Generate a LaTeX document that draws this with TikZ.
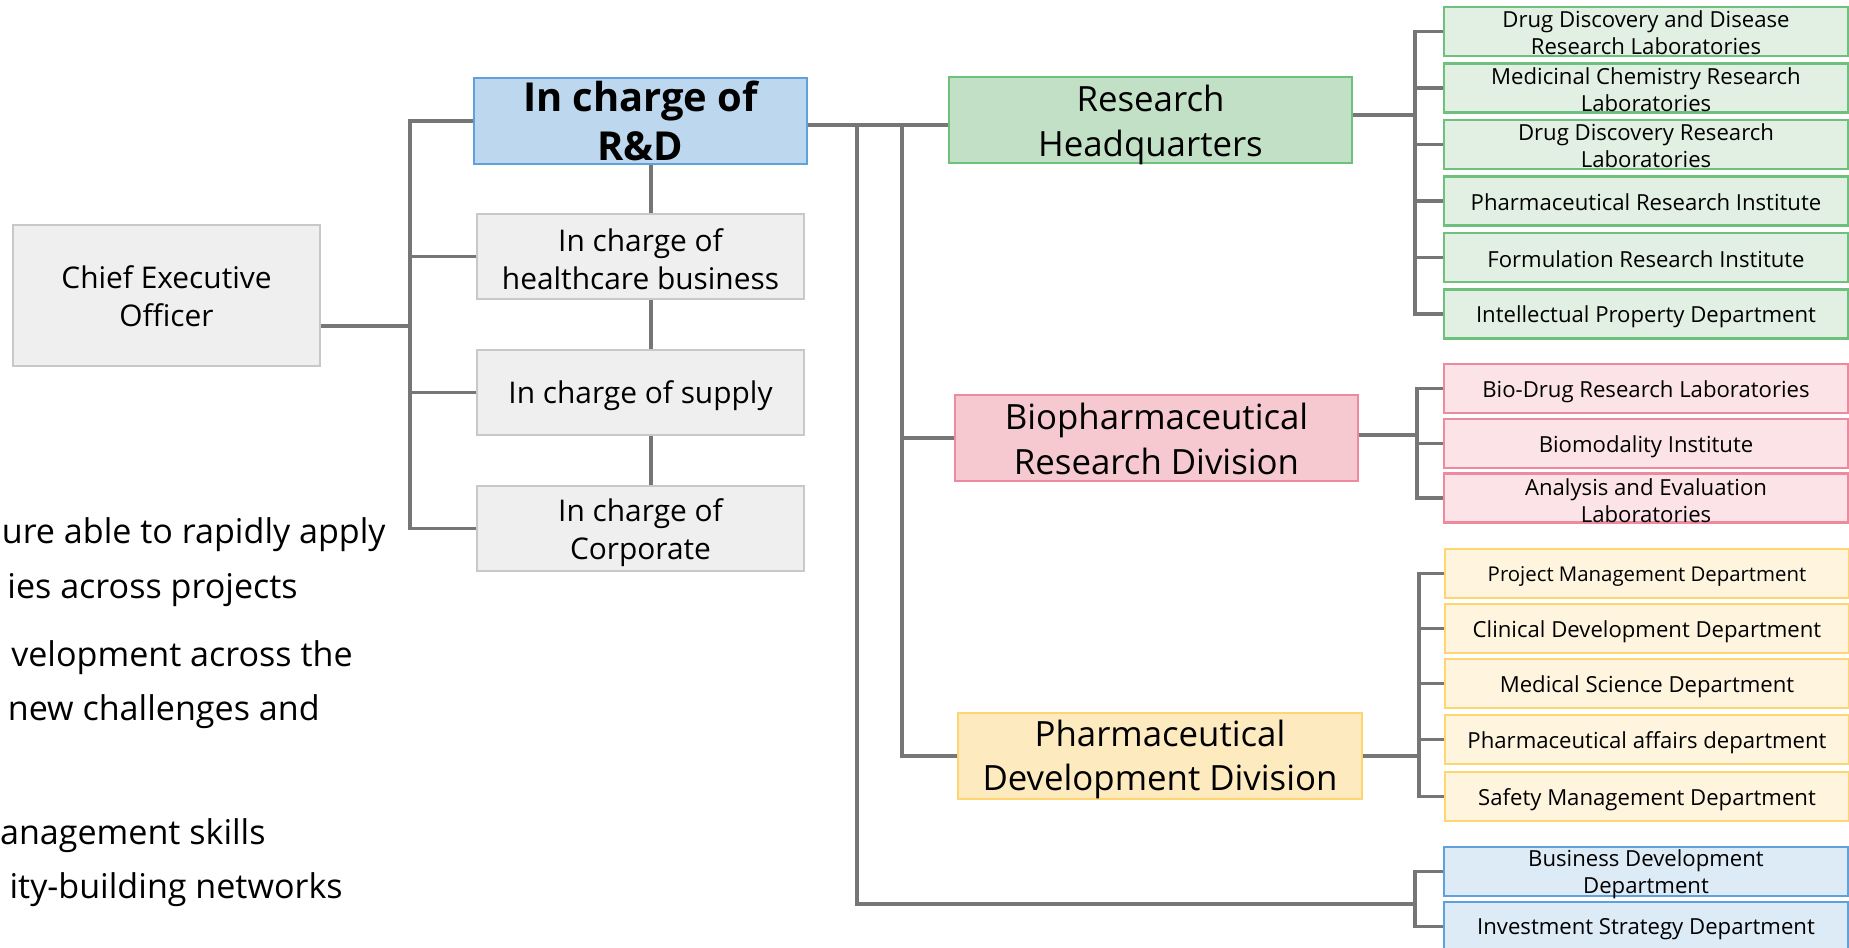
\documentclass[tikz,border=0pt]{standalone}
\usepackage{fontspec}
\setmainfont{Open Sans}
\definecolor{lc}{HTML}{767676}
\definecolor{grayf}{HTML}{EFEFEF}
\definecolor{grayb}{HTML}{C8C8C8}
\definecolor{rdf}{HTML}{BDD7EE}
\definecolor{blueb}{HTML}{5FA2DB}
\definecolor{bluel}{HTML}{DDEBF7}
\definecolor{hqf}{HTML}{C1E0C5}
\definecolor{greenb}{HTML}{6EC17D}
\definecolor{greenl}{HTML}{E2F0E4}
\definecolor{biof}{HTML}{F6C8D0}
\definecolor{pinkb}{HTML}{EE8A9D}
\definecolor{pinkl}{HTML}{FBE3E7}
\definecolor{devf}{HTML}{FEEABF}
\definecolor{yelb}{HTML}{FED56E}
\definecolor{yell}{HTML}{FFF4DE}
\begin{document}
\begin{tikzpicture}[x=0.02cm,y=-0.02cm,
  conn/.style={draw=lc,line width=1.9pt,line join=miter},
  bx/.style n args={4}{draw=#3,fill=#4,line width=1.4pt,minimum width=#1*0.02cm,minimum height=#2*0.02cm,inner sep=0pt},
  tmid/.style={align=center,inner sep=0pt,yshift=-0.06cm,font=\fontsize{17}{21.5}\selectfont},
  tbig/.style={align=center,inner sep=0pt,font=\fontsize{22.7}{28.3}\selectfont\bfseries},
  tdiv/.style={align=center,inner sep=0pt,font=\fontsize{19.8}{25.5}\selectfont},
  tsm/.style={align=center,inner sep=0pt,yshift=-0.06cm,font=\fontsize{12.6}{15.3}\selectfont},
  tsx/.style={align=center,inner sep=0pt,yshift=-0.06cm,font=\fontsize{11.6}{15.3}\selectfont},
  tleft/.style={anchor=east,inner sep=0pt,font=\fontsize{19.4}{24}\selectfont},
]
\fill[white] (0,0) rectangle (1849,947);
\useasboundingbox (0,0) rectangle (1849,947);

% left-hand side
\node[bx={307}{141}{grayb}{grayf},label={[tmid,yshift=0.045cm]center:{Chief Executive\\Officer}}] (ceo) at (166.5,295.5) {};
\node[bx={333}{86}{blueb}{rdf},label={[tbig]center:{In charge of\\R\&D}}] (rd) at (640.5,121) {};
\node[bx={327}{85}{grayb}{grayf},label={[tmid,yshift=0.01cm]center:{In charge of\\healthcare business}}] (hc) at (640.5,256.5) {};
\node[bx={327}{85}{grayb}{grayf},label={[tmid]center:{In charge of supply}}] (sup) at (640.5,392.5) {};
\node[bx={327}{85}{grayb}{grayf},label={[tmid,yshift=-0.02cm]center:{In charge of\\Corporate}}] (corp) at (640.5,528.5) {};

% divisions
\node[bx={403}{86}{greenb}{hqf},label={[tdiv,yshift=-0.095cm]center:{Research\\Headquarters}}] (hq) at (1150.5,120) {};
\node[bx={403}{86}{pinkb}{biof},label={[tdiv,yshift=-0.02cm]center:{Biopharmaceutical\\Research Division}}] (bio) at (1156.5,438) {};
\node[bx={404}{86}{yelb}{devf},label={[tdiv,yshift=-0.07cm]center:{Pharmaceutical\\Development Division}}] (dev) at (1160,756) {};

% research HQ units
\node[bx={404}{49}{greenb}{greenl},label={[tsm,yshift=0.03cm]center:{Drug Discovery and Disease\\Research Laboratories}}] (g1) at (1646,31.5) {};
\node[bx={404}{49}{greenb}{greenl},label={[tsm,yshift=0.03cm]center:{Medicinal Chemistry Research\\Laboratories}}] (g2) at (1646,88) {};
\node[bx={404}{49}{greenb}{greenl},label={[tsm,yshift=0.03cm]center:{Drug Discovery Research\\Laboratories}}] (g3) at (1646,144.5) {};
\node[bx={404}{49}{greenb}{greenl},label={[tsm,yshift=0.03cm]center:{Pharmaceutical Research Institute}}] (g4) at (1646,201) {};
\node[bx={404}{49}{greenb}{greenl},label={[tsm,yshift=0.03cm]center:{Formulation Research Institute}}] (g5) at (1646,257.5) {};
\node[bx={404}{49}{greenb}{greenl},label={[tsm]center:{Intellectual Property Department}}] (g6) at (1646,314) {};

% biopharma units
\node[bx={404}{49}{pinkb}{pinkl},label={[tsm]center:{Bio-Drug Research Laboratories}}] (p1) at (1646,388.5) {};
\node[bx={404}{49}{pinkb}{pinkl},label={[tsm]center:{Biomodality Institute}}] (p2) at (1646,443.5) {};
\node[bx={404}{49}{pinkb}{pinkl},label={[tsm]center:{Analysis and Evaluation\\Laboratories}}] (p3) at (1646,498) {};

% development units
\node[bx={404}{49}{yelb}{yell},label={[tsx]center:{Project Management Department}}] (d1) at (1647,573.5) {};
\node[bx={404}{49}{yelb}{yell},label={[tsm]center:{Clinical Development Department}}] (d2) at (1647,628.5) {};
\node[bx={404}{49}{yelb}{yell},label={[tsm]center:{Medical Science Department}}] (d3) at (1647,683.5) {};
\node[bx={404}{49}{yelb}{yell},label={[tsm]center:{Pharmaceutical affairs department}}] (d4) at (1647,739.5) {};
\node[bx={404}{49}{yelb}{yell},label={[tsm]center:{Safety Management Department}}] (d5) at (1647,796.5) {};

% business units
\node[bx={404}{49}{blueb}{bluel},label={[tsm]center:{Business Development\\Department}}] (b1) at (1646,871.5) {};
\node[bx={404}{49}{blueb}{bluel},label={[tsm]center:{Investment Strategy Department}}] (b2) at (1646,926.5) {};

% text running in from the left edge
\node[tleft] (l1) at (386,535) {ure able to rapidly apply};
\node[tleft] (l2) at (298,590) {ies across projects};
\node[tleft] (l3) at (353,658) {velopment across the};
\node[tleft] (l4) at (320,712) {new challenges and};
\node[tleft] (l5) at (266,836) {anagement skills};
\node[tleft] (l6) at (343,890) {ity-building networks};

% connector coordinates
\coordinate (lbx) at (410,0);
\coordinate (cj) at (410,326);
\coordinate (vx) at (651,0);
\coordinate (ry) at (0,125);
\coordinate (v1x) at (857,0);
\coordinate (v2x) at (902,0);
\coordinate (bb) at (1415,904);
\coordinate (hqb) at (1415,115);
\coordinate (bib) at (1417,435);
\coordinate (dvb) at (1419,0);

% left tree
\draw[conn] (rd.west) -- (rd.west -| lbx) -- (corp.west -| lbx) -- (corp.west);
\draw[conn] (hc.west) -- (hc.west -| lbx);
\draw[conn] (sup.west) -- (sup.west -| lbx);
\draw[conn] (ceo.east |- cj) -- (cj);
\draw[conn] (rd.south -| vx) -- (hc.north -| vx);
\draw[conn] (hc.south -| vx) -- (sup.north -| vx);
\draw[conn] (sup.south -| vx) -- (corp.north -| vx);

% right tree
\draw[conn] (rd.east |- ry) -- (hq.west |- ry);
\draw[conn] (v2x |- ry) -- (v2x |- dev.west) -- (dev.west);
\draw[conn] (bio.west -| v2x) -- (bio.west);
\draw[conn] (v1x |- ry) -- (v1x |- bb) -- (bb);
\draw[conn] (b1.west) -- (b1.west -| bb) -- (b2.west -| bb) -- (b2.west);

\draw[conn] (hq.east |- hqb) -- (hqb);
\draw[conn] (g1.west) -- (g1.west -| hqb) -- (g6.west -| hqb) -- (g6.west);
\foreach \n in {g2,g3,g4,g5} \draw[conn] (\n.west) -- (\n.west -| hqb);

\draw[conn] (bio.east |- bib) -- (bib);
\draw[conn] (p1.west) -- (p1.west -| bib) -- (p3.west -| bib) -- (p3.west);
\draw[conn] (p2.west) -- (p2.west -| bib);

\draw[conn] (dev.east) -- (dev.east -| dvb);
\draw[conn] (d1.west) -- (d1.west -| dvb) -- (d5.west -| dvb) -- (d5.west);
\foreach \n in {d2,d3,d4} \draw[conn] (\n.west) -- (\n.west -| dvb);
\end{tikzpicture}
\end{document}
